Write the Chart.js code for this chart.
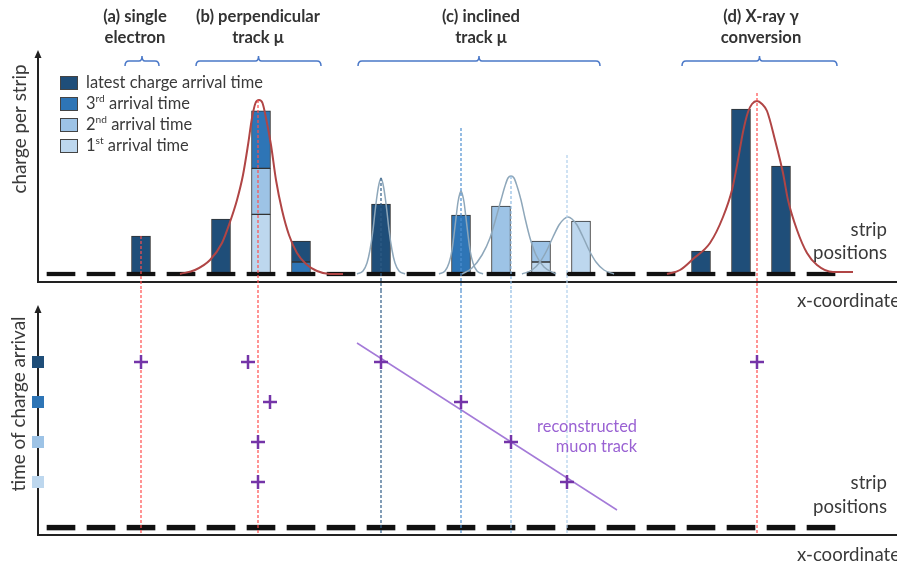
<!DOCTYPE html>
<html><head><meta charset="utf-8">
<script src="https://cdn.jsdelivr.net/npm/chart.js@4.4.1/dist/chart.umd.min.js"></script>
<style>
html,body{margin:0;padding:0;background:#fff;}
#wrap{position:relative;width:897px;height:563px;overflow:hidden;background:#fff;}
canvas{position:absolute;left:0;}
#c1{top:0;}
#c2{top:290px;}
</style></head><body>
<div id="wrap"><canvas id="c1" width="897" height="290"></canvas><canvas id="c2" width="897" height="273"></canvas></div>
<script>
// ---------------- data ----------------
const strips = [0,1,2,3,4,5,6,7,8,9,10,11,12,13,14,15,16,17,18,19];
const classNames = ['1st arrival time','2nd arrival time','3rd arrival time','latest charge arrival time'];
const classColors = ['#bdd7ee','#9dc3e6','#2e75b6','#1f4e79'];
// charge per strip, by arrival class (stacked bottom->top: 1st, 2nd, 3rd, latest)
const barStrips    = [2,   4,    5,    6,    8,  10,   11, 12,   13,   16,   17,   18];
const charge1st    = [0,   0,    29.8, 0,    0,  0,    0,  6,    26.5, 0,    0,    0];
const charge2nd    = [0,   0,    23,   0,    0,  0,    34, 10.5, 0,    0,    0,    0];
const charge3rd    = [0,   0,    28.8, 6,    0,  29.5, 0,  0,    0,    0,    0,    0];
const chargeLatest = [19,  27.5, 0,    10.5, 35, 0,    0,  0,    0,    11.5, 82.5, 54];

// fitted charge clouds: x in strip units, y in charge units
const fitPerpX = [2.975,3.35,3.725,4.025,4.225,4.4,4.55,4.675,4.775,4.8625,4.95,5.0375,5.125,5.25,5.375,5.525,5.7,5.9,6.125,6.4,6.725,7.05];
const fitPerpY = [0,2,7,15.5,26,37,49.5,64.5,78,85.5,87,85.5,78,64.5,47,32,19.5,10.5,5,1.5,0,0];
const fitXrayX = [15.15,15.475,15.8,16.225,16.55,16.775,16.925,17.05,17.175,17.275,17.4,17.525,17.65,17.85,18.05,18.175,18.4,18.65,18.9,19.3,19.8];
const fitXrayY = [0,2,7.5,15.5,28.5,42,57,71,81,85,86.5,85,81.5,67,50.5,37,22,10.5,4.5,1,1];
const fitInc1X = [7.4,7.55,7.65,7.725,7.8,7.85,7.9,7.95,8,8.05,8.1,8.15,8.2,8.275,8.35,8.45,8.6];
const fitInc1Y = [0,1.5,5.5,12,22,31,39,45,48,45,39,31,22,12,5.5,1.5,0];
const fitInc2X = [9.45,9.6,9.7,9.775,9.825,9.875,9.925,9.975,10,10.025,10.075,10.125,10.175,10.225,10.3,10.4,10.55];
const fitInc2Y = [0,1.5,5.5,12,19.5,28,36,40.5,41.5,40.5,36,28,19.5,12,5.5,1.5,0];
const fitInc3X = [10.025,10.275,10.525,10.725,10.875,11,11.1,11.175,11.25,11.325,11.4,11.5,11.6,11.725,11.875,12.075,12.375];
const fitInc3Y = [0,3,9.5,18,28,37,44,48,49,48,44,37,28,18,9.5,3.5,0];
const fitInc4X = [11.525,11.775,11.975,12.15,12.3,12.45,12.575,12.675,12.775,12.9,13.05,13.2,13.375,13.575,13.825];
const fitInc4Y = [0,2,6,12,18.5,24.5,27.5,28.5,27.5,24.5,18.5,12,6,2,0];

// reconstructed positions (vertical guides)
const guideX      = [2, 4.925, 8, 10, 11.25, 12.65, 17.4];
const guideTop    = [19, 87, 48, 73, 49, 59.5, 90.5];
const guideColors = ['#ff4d4d','#ff4d4d','#2f5c86','#4f8fd0','#8fbbe3','#b0cfec','#ff4d4d'];

// time of charge arrival (1 = 1st ... 4 = latest)
const timeLevels = [1,2,3,4];
const hitX = [2, 4.675, 5.225, 4.925, 4.925, 8, 10, 11.25, 12.65, 17.4];
const hitT = [4, 4, 3, 2, 1, 4, 3, 2, 1, 4];
const trackX = [7.4, 13.9];
const trackT = [4.475, 0.3];

// event groups
const groupTitles = [['(a) single','electron'],['(b) perpendicular','track μ'],['(c) inclined','track μ'],['(d) X-ray γ','conversion']];
const groupCenter = [1.85, 4.925, 10.5, 17.5];
const braceFrom   = [1.6, 3.375, 7.425, 15.525];
const braceTo     = [2.45, 6.5, 13.475, 19.4];

const legendOrder = [3,2,1,0];
const legendParts = [['latest charge arrival time','',''],['3','rd',' arrival time'],['2','nd',' arrival time'],['1','st',' arrival time']];

// ---------------- helpers ----------------
const FONT = 'Lato, "Open Sans", sans-serif';
const pts = (xs, ys) => xs.map((x, i) => ({x, y: ys[i]}));
function fit(ctx, s, weight, target) {
  ctx.save(); ctx.font = `${weight} 20px ${FONT}`;
  const w = ctx.measureText(s).width; ctx.restore();
  return 20 * target / w;
}
function text(ctx, s, x, y, o = {}) {
  ctx.save();
  ctx.font = `${o.weight || 'normal'} ${o.size || 15}px ${FONT}`;
  ctx.fillStyle = o.color || '#3a3a3a';
  ctx.textAlign = o.align || 'left';
  ctx.textBaseline = 'middle';
  ctx.translate(x, y);
  if (o.rotate) ctx.rotate(o.rotate);
  ctx.fillText(s, 0, 0);
  ctx.restore();
}
function axes(ctx, area) {
  ctx.save();
  ctx.strokeStyle = '#222'; ctx.fillStyle = '#222'; ctx.lineWidth = 2;
  ctx.beginPath();
  ctx.moveTo(area.left, area.top + 7); ctx.lineTo(area.left, area.bottom);
  ctx.lineTo(area.right, area.bottom);
  ctx.stroke();
  ctx.beginPath();
  ctx.moveTo(area.left, area.top); ctx.lineTo(area.left - 3.5, area.top + 8); ctx.lineTo(area.left + 3.5, area.top + 8);
  ctx.closePath(); ctx.fill();
  ctx.restore();
}
function brace(ctx, x1, x2, y) {
  const xc = (x1 + x2) / 2;
  ctx.save();
  ctx.strokeStyle = '#4a78c8'; ctx.lineWidth = 1.5;
  ctx.beginPath();
  ctx.moveTo(x1, y + 5); ctx.quadraticCurveTo(x1, y, x1 + 4, y);
  ctx.lineTo(xc - 3, y); ctx.quadraticCurveTo(xc, y, xc, y - 5);
  ctx.quadraticCurveTo(xc, y, xc + 3, y);
  ctx.lineTo(x2 - 4, y); ctx.quadraticCurveTo(x2, y, x2, y + 5);
  ctx.stroke();
  ctx.restore();
}

// ---------------- top chart: charge per strip ----------------
function barDatasets() {
  const cls = [charge1st, charge2nd, charge3rd, chargeLatest];
  const base = barStrips.map(() => 0);
  return cls.map((vals, k) => {
    const data = [];
    vals.forEach((v, i) => {
      if (v > 0) { data.push({x: barStrips[i], y: [base[i], base[i] + v]}); base[i] += v; }
    });
    return {
      type: 'bar', label: classNames[k], data, backgroundColor: classColors[k],
      borderColor: '#333', borderWidth: 1, borderSkipped: false,
      barThickness: 19, grouped: false, order: 10
    };
  });
}
function stripDashes(lo, hi) {
  return {
    type: 'bar', label: 'strip positions', data: strips.map(s => ({x: s, y: [lo, hi]})),
    backgroundColor: '#111', borderWidth: 0, barThickness: 28, grouped: false, order: 5
  };
}
function fitLine(xs, ys, color, w) {
  return {type: 'line', data: pts(xs, ys), borderColor: color, borderWidth: w, pointRadius: 0,
    cubicInterpolationMode: 'monotone', fill: false, order: 3};
}
function guideLines(bottomVal, topVals) {
  return guideX.map((x, i) => ({
    type: 'line', data: [{x, y: topVals[i]}, {x, y: bottomVal}], borderColor: guideColors[i],
    borderWidth: 1.2, borderDash: [3, 2], pointRadius: 0, clip: false, order: 1
  }));
}

const topDeco = {
  id: 'topDeco',
  beforeDatasetsDraw(chart) { axes(chart.ctx, chart.chartArea); },
  afterDraw(chart) {
    const ctx = chart.ctx, xs = chart.scales.x;
    const tSize = fit(ctx, '(b) perpendicular', 'bold', 124);
    groupTitles.forEach((t, i) => {
      const cx = xs.getPixelForValue(groupCenter[i]);
      text(ctx, t[0], cx, 17, {size: tSize, weight: 'bold', align: 'center', color: '#333'});
      text(ctx, t[1], cx, 38, {size: tSize, weight: 'bold', align: 'center', color: '#333'});
      brace(ctx, xs.getPixelForValue(braceFrom[i]), xs.getPixelForValue(braceTo[i]), 61);
    });
    // legend
    const lSize = fit(ctx, 'latest charge arrival time', 'normal', 177);
    legendOrder.forEach((k, r) => {
      const y = 83 + r * 21;
      ctx.save();
      ctx.fillStyle = classColors[k]; ctx.strokeStyle = '#444'; ctx.lineWidth = 1;
      ctx.fillRect(60.5, y - 6.5, 17, 13); ctx.strokeRect(60.5, y - 6.5, 17, 13);
      ctx.restore();
      const p = legendParts[r];
      ctx.save();
      ctx.font = `normal ${lSize}px ${FONT}`;
      let x = 86;
      text(ctx, p[0], x, y, {size: lSize});
      x += ctx.measureText(p[0]).width;
      if (p[1]) {
        const sSize = lSize * 0.62;
        text(ctx, p[1], x, y - 5, {size: sSize});
        ctx.font = `normal ${sSize}px ${FONT}`;
        x += ctx.measureText(p[1]).width;
        text(ctx, p[2], x, y, {size: lSize});
      }
      ctx.restore();
    });
    const ySize = fit(ctx, 'time of charge arrival', 'normal', 175);
    text(ctx, 'charge per strip', 20, 129, {size: ySize, align: 'center', rotate: -Math.PI / 2});
    const sSize = fit(ctx, 'positions', 'normal', 74);
    text(ctx, 'strip', 887, 230, {size: sSize, align: 'right'});
    text(ctx, 'positions', 887, 253, {size: sSize, align: 'right'});
  }
};

new Chart(document.getElementById('c1'), {
  type: 'bar',
  data: {
    datasets: [
      ...guideLines(-8, guideTop),
      fitLine(fitPerpX, fitPerpY, '#b04545', 2),
      fitLine(fitXrayX, fitXrayY, '#b04545', 2),
      fitLine(fitInc1X, fitInc1Y, '#8ea7ba', 1.5),
      fitLine(fitInc2X, fitInc2Y, '#8ea7ba', 1.5),
      fitLine(fitInc3X, fitInc3Y, '#8ea7ba', 1.5),
      fitLine(fitInc4X, fitInc4Y, '#8ea7ba', 1.5),
      stripDashes(-0.9, 0.9),
      ...barDatasets()
    ]
  },
  options: {
    responsive: false, animation: false, events: [],
    layout: {autoPadding: false, padding: {left: 38, right: 0, top: 50, bottom: 8}},
    scales: {
      x: {type: 'linear', min: -0.575, max: 20.9, offset: false, display: false},
      y: {type: 'linear', min: -4, max: 112, display: false}
    },
    plugins: {legend: {display: false}, tooltip: {enabled: false}}
  },
  plugins: [topDeco]
});

// ---------------- bottom chart: time of charge arrival ----------------
const botDeco = {
  id: 'botDeco',
  beforeDatasetsDraw(chart) { axes(chart.ctx, chart.chartArea); },
  afterDraw(chart) {
    const ctx = chart.ctx;
    const sSize = fit(ctx, 'positions', 'normal', 74);
    text(ctx, 'x-coordinate', 797, 11, {size: sSize});
    text(ctx, 'x-coordinate', 797, 265, {size: sSize});
    const ySize = fit(ctx, 'time of charge arrival', 'normal', 175);
    text(ctx, 'time of charge arrival', 19, 114, {size: ySize, align: 'center', rotate: -Math.PI / 2});
    text(ctx, 'strip', 887, 193, {size: sSize, align: 'right'});
    text(ctx, 'positions', 887, 217, {size: sSize, align: 'right'});
    const pSize = fit(ctx, 'reconstructed', 'normal', 100);
    text(ctx, 'reconstructed', 637, 137, {size: pSize, align: 'right', color: '#9a62d3'});
    text(ctx, 'muon track', 637, 157, {size: pSize, align: 'right', color: '#9a62d3'});
  }
};

new Chart(document.getElementById('c2'), {
  type: 'bar',
  data: {
    datasets: [
      ...guideLines(-0.3, guideX.map(() => 5.8)),
      {type: 'line', data: pts(trackX, trackT), borderColor: '#a47ad8', borderWidth: 1.5, pointRadius: 0, order: 2},
      {type: 'scatter', data: pts(hitX, hitT), pointStyle: 'cross', pointRadius: 7, borderWidth: 2.5,
        borderColor: '#7434a8', backgroundColor: '#7434a8', order: 0},
      {type: 'scatter', data: timeLevels.map(t => ({x: -0.575, y: t})), pointStyle: 'rect', pointRadius: 8.5,
        borderWidth: 0, backgroundColor: timeLevels.map(t => classColors[t - 1]), clip: false, order: 0},
      stripDashes(-0.2, -0.08)
    ]
  },
  options: {
    responsive: false, animation: false, events: [],
    layout: {autoPadding: false, padding: {left: 38, right: 0, top: 15, bottom: 28}},
    scales: {
      x: {type: 'linear', min: -0.575, max: 20.9, offset: false, display: false},
      y: {type: 'linear', min: -0.325, max: 5.425, display: false}
    },
    plugins: {legend: {display: false}, tooltip: {enabled: false}}
  },
  plugins: [botDeco]
});
</script>
</body></html>
